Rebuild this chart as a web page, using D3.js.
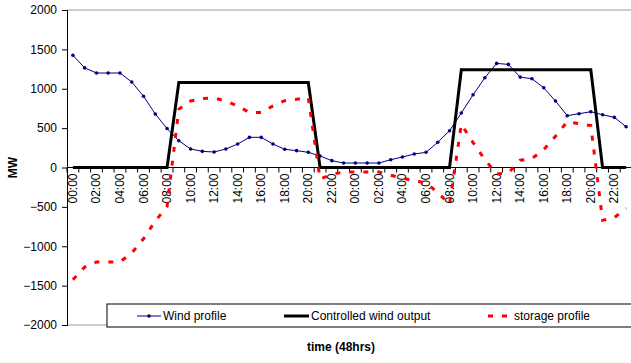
<!DOCTYPE html>
<html><head><meta charset="utf-8">
<script src="https://cdn.jsdelivr.net/npm/d3@7"></script>
<style>body{margin:0;background:#fff}svg{display:block}text{font-family:"Liberation Sans",Arial,sans-serif}</style>
</head><body>
<svg id="c" width="631" height="363"></svg>
<script>
const categories = ["00:00","01:00","02:00","03:00","04:00","05:00","06:00","07:00","08:00","09:00","10:00","11:00",
  "12:00","13:00","14:00","15:00","16:00","17:00","18:00","19:00","20:00","21:00","22:00","23:00",
  "00:00","01:00","02:00","03:00","04:00","05:00","06:00","07:00","08:00","09:00","10:00","11:00",
  "12:00","13:00","14:00","15:00","16:00","17:00","18:00","19:00","20:00","21:00","22:00","23:00"];
const windProfile = [1425,1265,1200,1200,1200,1085,905,680,495,340,235,205,197,235,298,383,383,298,231,214,193,146,87,57,
  57,57,57,99,133,171,193,320,467,692,924,1140,1322,1309,1148,1127,1013,844,658,683,708,670,637,518];
const controlledOutput = [0,0,0,0,0,0,0,0,0,1080,1080,1080,1080,1080,1080,1080,1080,1080,1080,1080,1080,0,0,0,
  0,0,0,0,0,0,0,0,0,1240,1240,1240,1240,1240,1240,1240,1240,1240,1240,1240,1240,0,0,0];
const storageProfile = [-1425,-1265,-1200,-1200,-1200,-1085,-905,-680,-495,740,845,875,883,845,782,697,697,782,849,866,887,-146,-87,-57,
  -57,-57,-57,-99,-133,-171,-193,-320,-467,548,316,100,-82,-69,92,113,227,396,582,557,532,-670,-637,-518];
const yTicks = [2000,1500,1000,500,0,-500,-1000,-1500,-2000];
const seriesNames = ["Wind profile","Controlled wind output","storage profile"];

const svg = d3.select("#c");
const L = 67, R = 632, T = 10, B = 325;
const idx = d3.range(categories.length);
const x = d3.scaleBand().domain(idx).range([L, R]);
const cx = i => x(i) + x.bandwidth()/2;
const y = d3.scaleLinear().domain([-2000, 2000]).range([B, T]);

// plot border lines (top/bottom)
svg.append("line").attr("x1",L).attr("x2",631).attr("y1",y(2000)).attr("y2",y(2000)).attr("stroke","#999");
svg.append("line").attr("x1",L).attr("x2",631).attr("y1",y(-2000)).attr("y2",y(-2000)).attr("stroke","#999");

// y axis
const ya = svg.append("g").attr("transform",`translate(${L},0)`)
  .call(d3.axisLeft(y).tickValues(yTicks).tickSize(5).tickPadding(5).tickFormat(d3.format("d")));
ya.select(".domain").attr("stroke","#000");
ya.selectAll("line").attr("stroke","#000");
ya.selectAll("text").attr("font-size",12).attr("fill","#000").attr("font-family","Liberation Sans, Arial, sans-serif");

// x axis at zero
const xg = svg.append("g").attr("transform",`translate(0,${y(0)})`);
xg.append("line").attr("x1",L).attr("x2",631).attr("stroke","#000");
const bounds = d3.range(categories.length+1).map(i => L + i*x.bandwidth());
xg.selectAll(".tk").data(bounds).enter().append("line")
  .attr("x1",d=>d).attr("x2",d=>d).attr("y1",0).attr("y2",5).attr("stroke","#000");
xg.selectAll(".lb").data(idx.filter(i=>i%2===0)).enter().append("text")
  .attr("transform",d=>`translate(${cx(d)+4},6) rotate(-90)`)
  .attr("text-anchor","end").attr("font-size",12).attr("fill","#000")
  .text(d=>categories[d]);

// series
const line = d3.line().x((d,i)=>cx(i)).y(d=>y(d));
svg.append("path").datum(windProfile).attr("d",line).attr("fill","none").attr("stroke","#000080").attr("stroke-width",1);
svg.selectAll(".wp").data(windProfile).enter().append("circle")
  .attr("cx",(d,i)=>cx(i)).attr("cy",d=>y(d)).attr("r",1.8).attr("fill","#000080");
svg.append("path").datum(controlledOutput).attr("d",line).attr("fill","none").attr("stroke","#000").attr("stroke-width",3);
svg.append("path").datum(storageProfile).attr("d",line).attr("fill","none").attr("stroke","#ff0000").attr("stroke-width",3).attr("stroke-dasharray","5,9");

// legend
const lg = svg.append("g");
lg.append("rect").attr("x",107).attr("y",304).attr("width",540).attr("height",23).attr("fill","#fff").attr("stroke","#000");
const ly = 316;
lg.append("line").attr("x1",137).attr("x2",161).attr("y1",ly).attr("y2",ly).attr("stroke","#000080");
lg.append("circle").attr("cx",149).attr("cy",ly).attr("r",1.8).attr("fill","#000080");
lg.append("text").attr("x",163).attr("y",ly+4).attr("font-size",12).text(seriesNames[0]);
lg.append("line").attr("x1",284).attr("x2",309).attr("y1",ly).attr("y2",ly).attr("stroke","#000").attr("stroke-width",3);
lg.append("text").attr("x",311).attr("y",ly+4).attr("font-size",12).text(seriesNames[1]);
lg.append("line").attr("x1",488).attr("x2",508).attr("y1",ly).attr("y2",ly).attr("stroke","#ff0000").attr("stroke-width",3).attr("stroke-dasharray","5,9");
lg.append("text").attr("x",514).attr("y",ly+4).attr("font-size",12).text(seriesNames[2]);

// titles
svg.append("text").attr("x",341).attr("y",351).attr("text-anchor","middle").attr("font-size",12).attr("font-weight","bold").text("time (48hrs)");
svg.append("text").attr("transform",`translate(17,${y(0)}) rotate(-90)`).attr("text-anchor","middle").attr("font-size",12).attr("font-weight","bold").text("MW");
</script>
</body></html>
